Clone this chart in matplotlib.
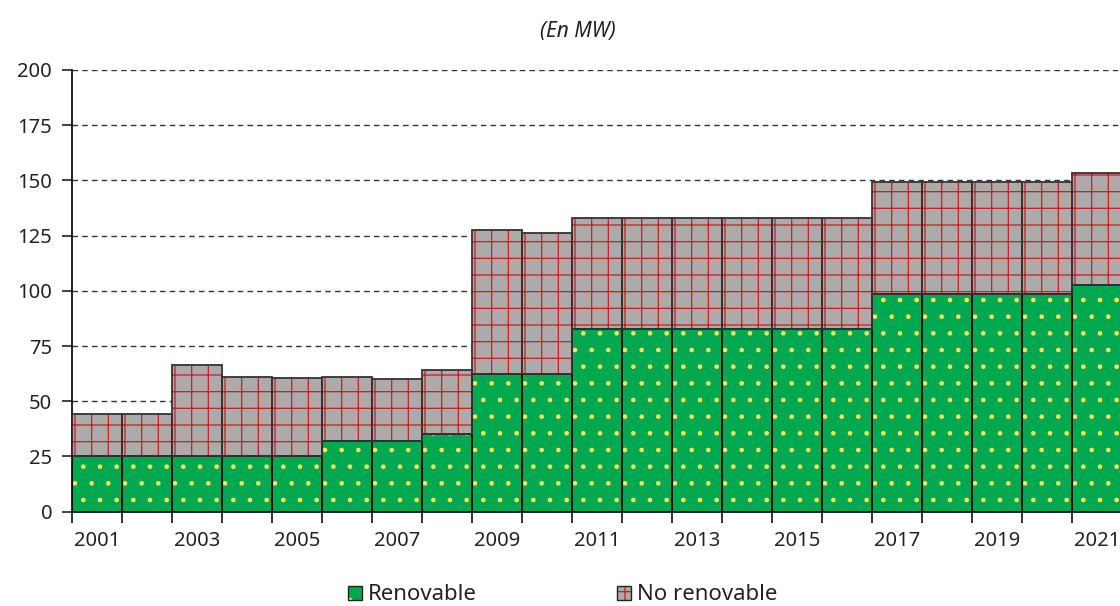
import matplotlib
matplotlib.use("Agg")
import matplotlib.pyplot as plt
from matplotlib.patches import Patch
from matplotlib.legend_handler import HandlerTuple
import numpy as np

years = list(range(2001, 2022))
renovable = [25, 25, 25, 25, 25, 32, 32, 35, 62.5, 62.5, 82.5,
             82.5, 82.5, 82.5, 82.5, 82.5, 98.5, 98.5, 98.5, 98.5, 102.5]
total = [44.3, 44.3, 66.5, 60.8, 60.5, 61.1, 60.3, 64.3, 127.6, 126.1, 133,
         133, 133, 133, 133, 133, 149.3, 149.3, 149.3, 149.3, 153.2]
no_renovable = [t - r for t, r in zip(total, renovable)]
labels = ["Renovable", "No renovable"]

green = "#00a84f"
gray = "#aeaaaa"
dot_col = "#ffe45c"
red = "#c81e1e"

plt.rcParams["font.family"] = ["Noto Sans", "DejaVu Sans"]
plt.rcParams["hatch.linewidth"] = 0.9

fig = plt.figure(figsize=(11.2, 6.06), dpi=100)
ax = fig.add_axes([0.064, 0.1556, 0.938, 0.729])

x = np.arange(len(years))
# fill + pattern layer, then outline layer on top
ax.bar(x, renovable, width=1.0, color=green, hatch=".", edgecolor=dot_col, linewidth=0, zorder=2)
ax.bar(x, no_renovable, bottom=renovable, width=1.0, color=gray, hatch="+",
       edgecolor=red, linewidth=0, zorder=2)
ax.bar(x, renovable, width=1.0, fill=False, edgecolor="#111111", linewidth=1.3, zorder=3)
ax.bar(x, no_renovable, bottom=renovable, width=1.0, fill=False, edgecolor="#333333",
       linewidth=1.3, zorder=3)

ax.set_xlim(-0.5, len(years) - 0.5)
ax.set_ylim(0, 200)
ax.set_yticks(np.arange(0, 201, 25))
ax.yaxis.grid(True, linestyle=(0, (4, 3)), color="#333333", linewidth=1.0, zorder=0)
ax.set_axisbelow(True)

ax.set_xticks(x[::2])
ax.set_xticklabels([str(y) for y in years[::2]])
ax.set_xticks(np.arange(-0.5, len(years)), minor=True)
ax.tick_params(axis="x", which="major", length=0, pad=14, labelsize=14.5, colors="#222222")
ax.tick_params(axis="x", which="minor", length=8, width=1.2, color="#111111")
ax.tick_params(axis="y", length=7, width=1.2, pad=7, labelsize=14.5, colors="#222222")

for s in ["top", "right"]:
    ax.spines[s].set_visible(False)
for s in ["left", "bottom"]:
    ax.spines[s].set_linewidth(1.3)
    ax.spines[s].set_color("#111111")

fig.text(578 / 1120, 1 - 32 / 606, "(En MW)", style="italic", fontsize=15,
         ha="center", va="center", color="#222222")

h1 = (Patch(facecolor=green, hatch=".", edgecolor=dot_col, linewidth=0),
      Patch(fill=False, edgecolor="#222222", linewidth=1.0))
h2 = (Patch(facecolor=gray, hatch="+", edgecolor=red, linewidth=0),
      Patch(fill=False, edgecolor="#222222", linewidth=1.0))
fig.legend([h1, h2], labels, handler_map={tuple: HandlerTuple(ndivide=1)},
           loc="center", bbox_to_anchor=(563 / 1120, 1 - 595 / 606), ncol=2,
           frameon=False, fontsize=16, handlelength=0.6, handleheight=0.6,
           handletextpad=0.3, columnspacing=6.3, labelcolor="#222222")

fig.savefig("out.png", dpi=100)
